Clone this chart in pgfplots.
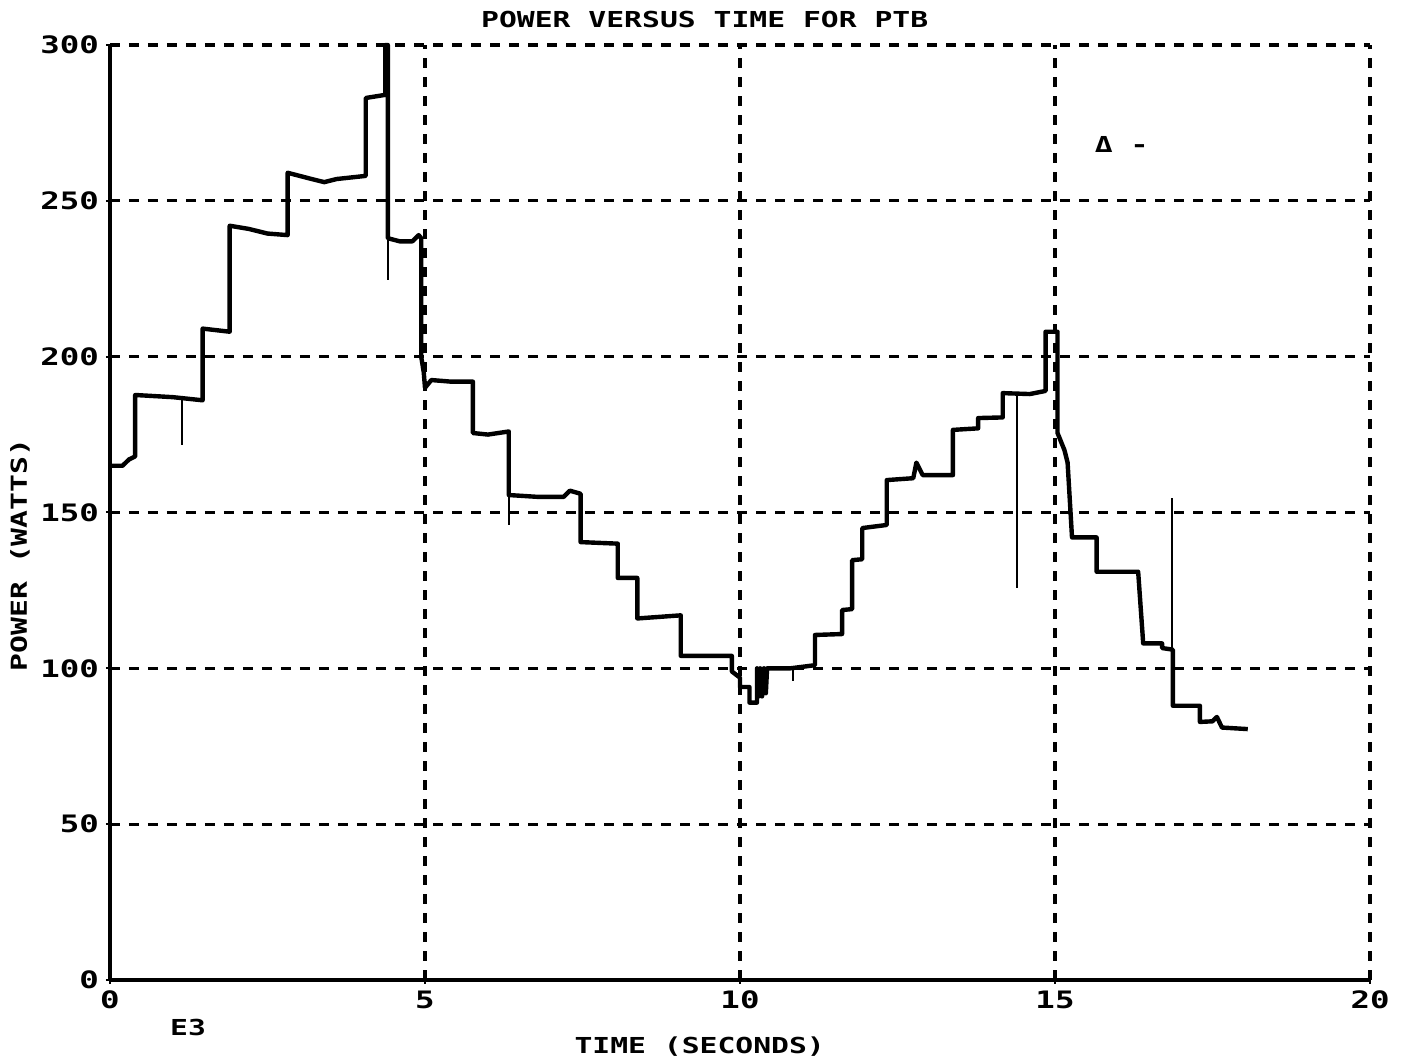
\documentclass[border=0pt]{standalone}
\usepackage{fontspec}
\usepackage{pgfplots}
\pgfplotsset{compat=1.18}
\newfontfamily\plotfont[FakeStretch=1.35]{DejaVu Sans Mono}

\begin{document}
\begin{tikzpicture}
\begin{axis}[
  name=ax,
  width=630pt, height=467.5pt, scale only axis,
  xmin=0, xmax=20, ymin=0, ymax=300,
  xtick={0,5,...,20}, ytick={0,50,...,300},
  axis lines=left, axis line style={-, line width=1.6pt},
  grid=major,
  grid style={black, line width=1.6pt, dash pattern=on 5pt off 4.5pt},
  major tick length=4pt, tick style={black, line width=1pt},
  /pgf/number format/assume math mode=true,
  ticklabel style={font=\fontsize{12}{12}\plotfont\bfseries},
  clip=false,
]
% main trace
\addplot[black, line width=2.2pt, line join=round] coordinates {
  (0.02,165)(0.2,165)(0.3,167)(0.4,168)(0.4,187.7)(1.0,187)(1.47,186)
  (1.47,209)(1.9,208)(1.9,242)(2.2,241)(2.5,239.5)(2.82,239)(2.82,259)(3.2,257)
  (3.4,256)(3.6,257)(4.06,258)(4.06,283)(4.37,284)(4.37,300)(4.41,300)(4.41,238)
  (4.6,237)(4.8,237)(4.9,239)(4.94,238)(4.94,200)(4.98,195)(5.0,190)(5.1,192.5)
  (5.4,192)(5.76,192)(5.76,175.5)(6.0,175)(6.33,176)(6.33,155.6)(6.8,155)(7.2,155)
  (7.3,157)(7.47,156)(7.47,140.5)(8.06,140)(8.06,129)(8.37,129)(8.37,116)(9.06,117)
  (9.06,104)(9.5,104)(9.87,104)(9.87,99)(10.0,97)(10.0,94)(10.15,94)(10.15,89)
  (10.27,89)(10.27,100)(10.3,91)(10.32,100)(10.35,91)(10.38,100)(10.41,92)(10.43,100)
  (10.8,100)(11.19,101)(11.19,110.7)(11.62,111)(11.62,118.7)(11.78,119)(11.78,134.7)
  (11.94,135)(11.94,145)(12.33,146)(12.33,160.4)(12.75,161)(12.8,166)(12.9,162)
  (13.38,162)(13.38,176.5)(13.78,177)(13.78,180.3)(14.17,180.5)(14.17,188.3)(14.6,188)
  (14.85,189)(14.85,208)(15.04,208)(15.04,175.5)(15.15,170)(15.2,166)(15.27,142)
  (15.66,142)(15.66,131)(16.32,131)(16.4,108)(16.7,108)(16.7,106.5)(16.87,106)
  (16.87,88)(17.3,88)(17.3,82.8)(17.5,83)(17.57,84.4)(17.65,81)(18.06,80.5)
};
% thin spikes
\addplot[black, line width=1pt] coordinates {(1.14,187)(1.14,171.6)};
\addplot[black, line width=1pt] coordinates {(4.42,238)(4.42,224.6)};
\addplot[black, line width=1pt] coordinates {(6.33,155)(6.33,146)};
\addplot[black, line width=1pt] coordinates {(10.84,100)(10.84,96)};
\addplot[black, line width=1pt] coordinates {(14.39,188)(14.39,125.8)};
\addplot[black, line width=1pt] coordinates {(16.86,106)(16.86,154.6)};

\node[font=\fontsize{11}{11}\plotfont\bfseries] at (axis description cs:0.472,1.027) {POWER VERSUS TIME FOR PTB};
\node[font=\fontsize{11}{11}\plotfont\bfseries] at (axis description cs:0.468,-0.0717) {TIME (SECONDS)};
\node[font=\fontsize{11}{11}\plotfont\bfseries, rotate=90] at (axis description cs:-0.0714,0.4545) {POWER (WATTS)};
\node[font=\fontsize{11}{11}\plotfont\bfseries] at (axis description cs:0.062,-0.0513) {E3};
\node[font=\fontsize{11}{11}\plotfont\bfseries] at (axis cs:16.06,268) {Δ -};
\end{axis}
\pgfresetboundingbox
\path[use as bounding box] ([xshift=-55pt,yshift=-41.5pt]ax.south west) rectangle ([xshift=16.5pt,yshift=22.5pt]ax.north east);
\end{tikzpicture}
\end{document}
